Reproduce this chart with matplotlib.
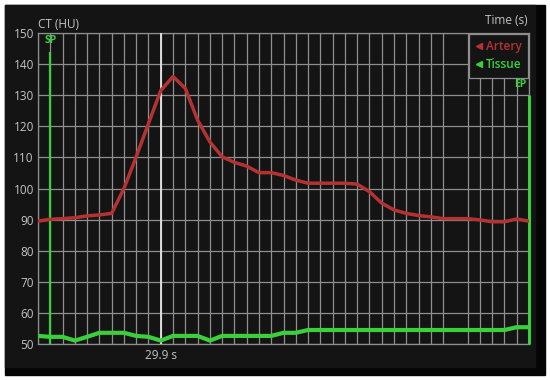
import matplotlib
matplotlib.use('Agg')
from matplotlib import pyplot as plt
from matplotlib.lines import Line2D
from matplotlib.patches import Rectangle

# sample times (s) -- one frame missing near 53.9 s
times = [19.9, 20.9, 21.9, 22.9, 23.9, 24.9, 25.9, 26.9, 27.9, 28.9,
         29.9, 30.9, 31.9, 32.9, 33.9, 34.9, 35.9, 36.9, 37.9, 38.9,
         39.9, 40.9, 41.9, 42.9, 43.9, 44.9, 45.9, 46.9, 47.9, 48.9,
         49.9, 50.9, 51.9, 52.9, 54.9, 55.9, 56.9, 57.9, 58.9, 59.9]

artery = [89.5, 90.1, 90.3, 90.6, 91.2, 91.5, 92.0, 100.0, 110.2, 120.9,
          131.5, 136.0, 132.2, 122.0, 115.0, 110.2, 108.4, 107.2, 105.1, 105.1,
          104.2, 102.7, 101.7, 101.7, 101.7, 101.7, 101.4, 99.0, 95.3, 93.1,
          92.0, 91.3, 90.9, 90.3, 90.3, 89.9, 89.3, 89.3, 90.2, 89.5]

tissue = [52.6, 52.3, 52.3, 51.1, 52.3, 53.6, 53.6, 53.6, 52.6, 52.3,
          51.1, 52.6, 52.6, 52.6, 51.1, 52.6, 52.6, 52.6, 52.6, 52.6,
          53.6, 53.6, 54.5, 54.5, 54.5, 54.5, 54.5, 54.5, 54.5, 54.5,
          54.5, 54.5, 54.5, 54.5, 54.5, 54.5, 54.5, 54.5, 55.4, 55.4]

yticks = [50, 60, 70, 80, 90, 100, 110, 120, 130, 140, 150]
cursor_t = 29.9
sp_t, sp_top = 20.9, 144
ep_t, ep_top = 59.9, 130

red = '#b53232'
green = '#3ccf3c'
txt = '#c4c4c4'
gridc = '#8e8e8e'
bg = '#141414'

plt.rcParams['font.family'] = ['Open Sans', 'DejaVu Sans']

fig = plt.figure(figsize=(5.5, 3.8), dpi=100, facecolor='white')
# screenshot frame
fig.patches.append(Rectangle((5 / 550, 5 / 380), 540 / 550, 370 / 380,
                             transform=fig.transFigure, color='#050505', zorder=-2))
fig.patches.append(Rectangle((5 / 550, 13 / 380), 530 / 550, 362 / 380,
                             transform=fig.transFigure, color=bg, zorder=-1))

ax = fig.add_axes([38 / 550, 36 / 380, 491 / 550, 311 / 380])
ax.set_facecolor(bg)
ax.set_xlim(times[0], times[-1])
ax.set_ylim(50, 150)

ax.set_xticks(times)
ax.set_yticks(yticks)
ax.set_xticklabels([])
ax.tick_params(length=0, labelsize=8.5, labelcolor=txt, pad=3)
ax.grid(True, color=gridc, lw=0.9)
ax.set_axisbelow(True)
for s in ax.spines.values():
    s.set_color(gridc)
    s.set_linewidth(0.9)

ax.axvline(cursor_t, color='#e6e6e6', lw=1.3, zorder=3)
ax.vlines([sp_t], 50, sp_top, color=green, lw=1.6, zorder=3)
ax.vlines([ep_t], 50, ep_top, color=green, lw=2.2, zorder=3, clip_on=False)

ax.plot(times, artery, color=red, lw=2.5, zorder=4, solid_joinstyle='round')
ax.plot(times, tissue, color=green, lw=3.0, zorder=4, solid_joinstyle='round')

ax.text(sp_t, sp_top + 1.8, 'SP', color=green, fontsize=7.5, fontweight='bold',
        ha='center', va='bottom')
ax.text(ep_t - 0.2, ep_top + 1.8, 'EP', color=green, fontsize=7.5, fontweight='bold',
        ha='right', va='bottom')
ax.text(cursor_t, 46.2, '%.1f s' % cursor_t, color=txt, fontsize=8.5,
        ha='center', va='center')
ax.text(0, 1.005, 'CT (HU)', color=txt, fontsize=8.5, transform=ax.transAxes,
        ha='left', va='bottom')
ax.text(0.998, 1.02, 'Time (s)', color=txt, fontsize=8.5, transform=ax.transAxes,
        ha='right', va='bottom')

handles = [Line2D([], [], ls='', marker='<', color=red, markersize=5),
           Line2D([], [], ls='', marker='<', color=green, markersize=5)]
leg = ax.legend(handles, ['Artery', 'Tissue'], loc='upper right',
                bbox_to_anchor=(1.0, 1.0), borderaxespad=0.05,
                handlelength=0.6, handletextpad=0.3, labelspacing=0.45,
                borderpad=0.55, prop={'size': 8.5, 'weight': 'semibold'},
                labelcolor=[red, green],
                facecolor=bg, edgecolor=gridc, framealpha=1, fancybox=False)
leg.get_frame().set_linewidth(0.9)
leg.set_zorder(5)

fig.savefig('out.png', dpi=100, facecolor='white')
